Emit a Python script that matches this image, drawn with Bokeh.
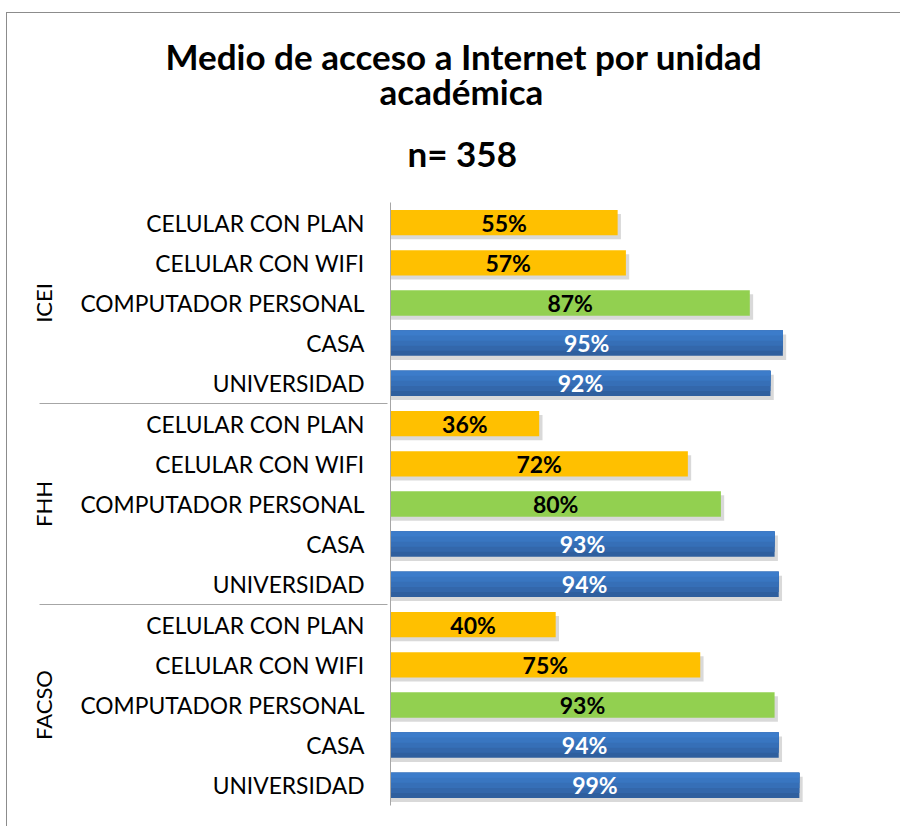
from bokeh.plotting import figure
from bokeh.models import FactorRange, Range1d, ColumnDataSource, Title
from bokeh.transform import dodge
from bokeh.embed import file_html
from bokeh.resources import INLINE
from bokeh.core.properties import value

groups = ["ICEI", "FHH", "FACSO"]
medios = ["CELULAR CON PLAN", "CELULAR CON WIFI", "COMPUTADOR PERSONAL", "CASA", "UNIVERSIDAD"]
icei = [55, 57, 87, 95, 92]
fhh = [36, 72, 80, 93, 94]
facso = [40, 75, 93, 94, 99]
medio_colors = ["#FFC000", "#FFC000", "#92D050", "#2F5F9E", "#2F5F9E"]
label_colors = ["black", "black", "black", "white", "white"]
title_lines = ["Medio de acceso a Internet por unidad", "académica", "n= 358"]

series = {"ICEI": icei, "FHH": fhh, "FACSO": facso}

ys, vals, cols, lcols, labels, blue = [], [], [], [], [], []
for g in groups:
    for m, v, c, lc in zip(medios, series[g], medio_colors, label_colors):
        ys.append((g, m))
        vals.append(v / 100)
        cols.append(c)
        lcols.append(lc)
        labels.append(f"{v}%")
        blue.append(lc == "white")

factors = list(reversed(ys))
src = ColumnDataSource(dict(y=ys, v=vals, mid=[x / 2 for x in vals], c=cols, lc=lcols, lab=labels))
bsrc = ColumnDataSource(dict(y=[y for y, b in zip(ys, blue) if b], v=[v for v, b in zip(vals, blue) if b]))

FONT = "Lato"
BAR_H = 0.63
p = figure(width=894, height=814, y_range=FactorRange(*factors, group_padding=0, range_padding=0),
           x_range=Range1d(0, 1), output_backend="svg", toolbar_location=None, title=None,
           min_border_left=383, min_border_right=98, min_border_top=189, min_border_bottom=22)
p.styles = {"margin-left": "6px", "margin-top": "12px",
            "border-left": "1px solid #8c8c8c", "border-top": "1px solid #8c8c8c"}

# title lines, added nearest-first; left offsets centre each line near x=460
title_offsets = [-225, -11, 17]
title_standoffs = [3, -22, 58]
for t, off, so in reversed(list(zip(title_lines, title_offsets, title_standoffs))):
    p.add_layout(Title(text=t, align="left", offset=off, standoff=so, text_font=FONT,
                       text_font_size="35px", text_font_style="bold", text_color="black"), "above")

# shadows
p.hbar(y=dodge("y", -0.1, range=p.y_range), left=0, right=dodge("v", 0.008), height=BAR_H, source=src,
       fill_color="#808080", fill_alpha=0.3, line_color=None)
p.hbar(y="y", left=0, right="v", height=BAR_H, source=src, fill_color="c", line_color=None)
# gradient bands on blue bars (lighter toward the top)
for k, col in [(0.8, "#3367AB"), (0.6, "#366FB7"), (0.4, "#3976C1"), (0.2, "#3C7CCA")]:
    p.hbar(y=dodge("y", BAR_H * (1 - k) / 2, range=p.y_range), left=0, right="v", height=BAR_H * k,
           source=bsrc, fill_color=col, line_color=None)
p.text(x="mid", y="y", text="lab", source=src, text_color="lc", text_font=value(FONT),
       text_font_style="bold", text_font_size="23px", text_align="center", text_baseline="middle")

p.xaxis.visible = False
p.xgrid.visible = False
p.ygrid.visible = False
p.outline_line_color = None
ax = p.yaxis[0]
ax.axis_line_color = "#a6a6a6"
ax.major_tick_line_color = None
ax.minor_tick_line_color = None
ax.major_label_text_font = FONT
ax.major_label_text_font_size = "22.8px"
ax.major_label_text_color = "black"
ax.major_label_standoff = 20
ax.group_text_font = FONT
ax.group_text_font_size = "22px"
ax.group_text_font_style = "normal"
ax.group_text_color = "black"
ax.group_label_orientation = "parallel"
ax.separator_line_color = "#a6a6a6"
ax.separator_line_width = 1

open("out.html", "w").write(file_html(p, INLINE))
